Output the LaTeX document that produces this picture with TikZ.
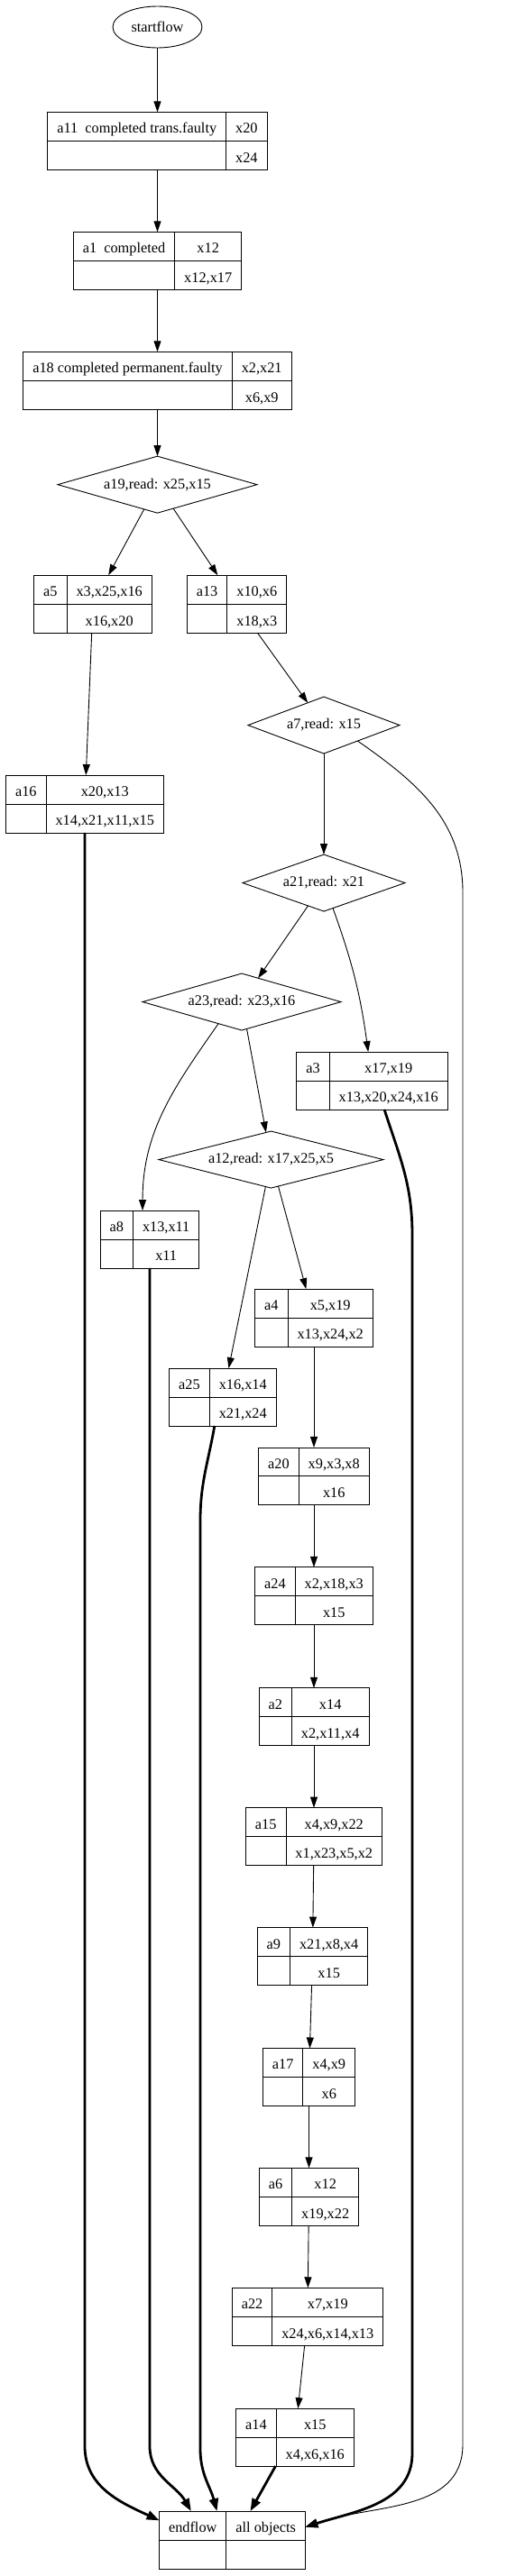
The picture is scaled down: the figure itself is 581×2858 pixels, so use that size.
\documentclass[tikz,border=0pt]{standalone}
\usepackage{fontspec}
\setmainfont{Liberation Serif}
\usepackage{tikz}
\usetikzlibrary{arrows.meta,positioning,shapes.geometric}
\setlength{\tabcolsep}{10.5pt}
\setlength{\arrayrulewidth}{0.9pt}
\newcommand{\rs}{\rule[-8pt]{0pt}{31.5pt}}
\newcommand{\recfields}[3]{\begin{tabular}{c|c}\rs#1&#2\\\hline\rs&#3\end{tabular}}

\begin{document}
\begin{tikzpicture}[x=1pt, y=1pt, node distance=69pt, every node/.style={font=\fontsize{16.3}{19}\selectfont}, rec/.style={draw,line width=0.9pt,inner sep=0pt,outer sep=0pt}, dec/.style={draw,line width=0.9pt,diamond,aspect=4,inner sep=0pt,outer sep=0pt,minimum height=63pt}, arr/.style={-{Triangle[length=12pt,width=8pt]},line width=0.9pt}, heavy/.style={-{Triangle[length=14pt,width=10pt]},line width=2.8pt}]
\useasboundingbox (0,0) rectangle (581,-2858);
\node[ellipse,draw,line width=0.9pt,minimum width=99pt,minimum height=46pt,inner sep=0pt] (startflow) at (174.5,-30) {startflow};
\node[rec,below=71pt of startflow] (a11) {\recfields{a11~~completed trans.faulty}{x20}{x24}};
\node[rec,below=of a11] (a1) {\recfields{a1~~completed}{x12}{x12,x17}};
\node[rec,below=of a1] (a18) {\recfields{a18 completed permanent.faulty}{x2,x21}{x6,x9}};
\node[dec,minimum width=221pt,below=52pt of a18] (a19) {a19,read: x25,x15};
\node[rec,below=of a19,xshift=-71.5pt] (a5) {\recfields{a5}{x3,x25,x16}{x16,x20}};
\node[rec,below=of a19,xshift=88pt] (a13) {\recfields{a13}{x10,x6}{x18,x3}};
\node[dec,minimum width=168pt,below=71pt of a13,xshift=96.5pt] (a7) {a7,read: x15};
\node[rec,below=158pt of a5,xshift=-9pt] (a16) {\recfields{a16}{x20,x13}{x14,x21,x11,x15}};
\node[dec,minimum width=180pt,below=112pt of a7] (a21) {a21,read: x21};
\node[dec,minimum width=220pt,below=of a21,xshift=-91pt] (a23) {a23,read: x23,x16};
\node[rec,below=156pt of a21,xshift=53.5pt] (a3) {\recfields{a3}{x17,x19}{x13,x20,x24,x16}};
\node[dec,minimum width=249pt,below=112pt of a23,xshift=32.5pt] (a12) {a12,read: x17,x25,x5};
\node[rec,below=200pt of a23,xshift=-102pt] (a8) {\recfields{a8}{x13,x11}{x11}};
\node[rec,below=112pt of a12,xshift=47.5pt] (a4) {\recfields{a4}{x5,x19}{x13,x24,x2}};
\node[rec,below=200pt of a12,xshift=-53.5pt] (a25) {\recfields{a25}{x16,x14}{x21,x24}};
\node[rec,below=112pt of a4] (a20) {\recfields{a20}{x9,x3,x8}{x16}};
\node[rec,below=of a20] (a24) {\recfields{a24}{x2,x18,x3}{x15}};
\node[rec,below=70pt of a24] (a2) {\recfields{a2}{x14}{x2,x11,x4}};
\node[rec,below=of a2] (a15) {\recfields{a15}{x4,x9,x22}{x1,x23,x5,x2}};
\node[rec,below=of a15,xshift=-1.5pt] (a9) {\recfields{a9}{x21,x8,x4}{x15}};
\node[rec,below=70pt of a9,xshift=-4pt] (a17) {\recfields{a17}{x4,x9}{x6}};
\node[rec,below=of a17] (a6) {\recfields{a6}{x12}{x19,x22}};
\node[rec,below=of a6,xshift=-1.5pt] (a22) {\recfields{a22}{x7,x19}{x24,x6,x14,x13}};
\node[rec,below=70pt of a22,xshift=-14pt] (a14) {\recfields{a14}{x15}{x4,x6,x16}};
\node[rec,below=50pt of a14,xshift=-69.5pt] (endflow) {\recfields{endflow}{all objects}{}};
% main spine
\draw[arr] (startflow) -- (a11);
\draw[arr] (a11) -- (a1);
\draw[arr] (a1) -- (a18);
\draw[arr] (a18) -- (a19);
\draw[arr] (a19) -- (a5);
\draw[arr] (a19) -- (a13);
\draw[arr] (a5) -- (a16);
\draw[arr] (a13) -- (a7);
\draw[arr] (a7) -- (a21);
\draw[arr] (a21) -- (a23);
\draw[arr] (a21) to[bend left=6] (a3);
\draw[arr] (a23.223) to[out=-125,in=90] (a8.104);
\draw[arr] (a23) -- (a12);
\draw[arr] (a12) -- (a25);
\draw[arr] (a12) -- (a4);
\draw[arr] (a4) -- (a20);
\draw[arr] (a20) -- (a24);
\draw[arr] (a24) -- (a2);
\draw[arr] (a2) -- (a15);
\draw[arr] (a15) -- (a9);
\draw[arr] (a9) -- (a17);
\draw[arr] (a17) -- (a6);
\draw[arr] (a6) -- (a22);
\draw[arr] (a22) -- (a14);
% into endflow
\draw[arr] (a7.-25) to[out=-35,in=90] (513,-990) -- (513,-2712) to[out=-90,in=20] (endflow.10);
\draw[heavy] (a16.south) -- ++(0,-1790) to[out=-90,in=155] (endflow.165);
\draw[heavy] (a8.south) -- ++(0,-1307) to[out=-90,in=120] (endflow.145);
\draw[heavy] (a25.-106) to[out=-100,in=90] (222,-1687) -- (222,-2717) to[out=-90,in=105] (endflow.118);
\draw[heavy] (a3.-67) to[out=-72,in=90] (457,-1370) -- (457,-2722) to[out=-90,in=18] (endflow.10);
\draw[heavy] (a14.236) -- (endflow.58);
\end{tikzpicture}
\end{document}
